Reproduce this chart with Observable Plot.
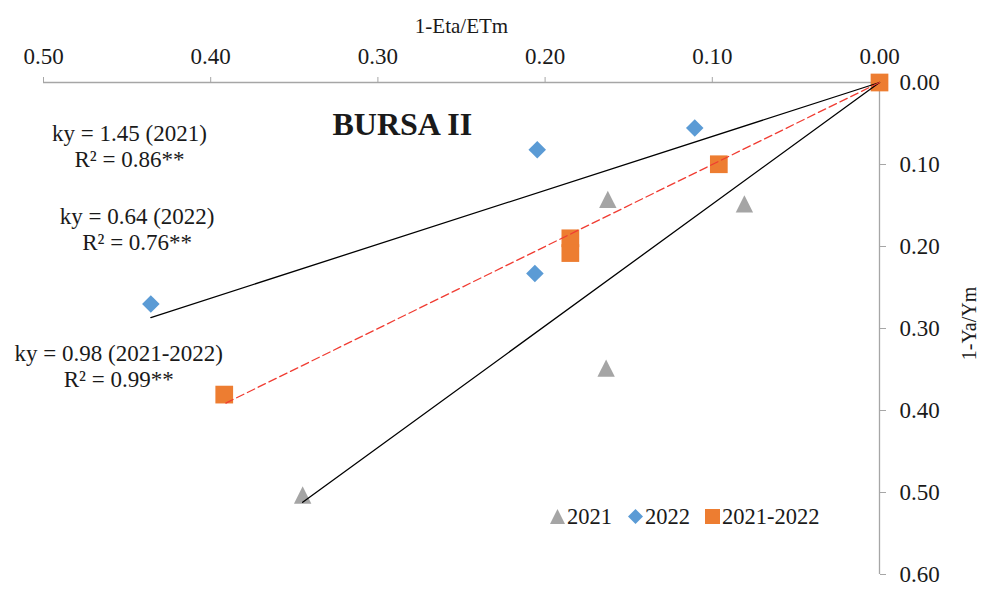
<!DOCTYPE html>
<html>
<head>
<meta charset="utf-8">
<script src="https://cdn.jsdelivr.net/npm/d3@7"></script>
<script src="https://cdn.jsdelivr.net/npm/@observablehq/plot@0.6"></script>
<style>
  html, body { margin: 0; padding: 0; background: #fff; }
  #wrap { position: relative; width: 982px; height: 594px; font-family: "Liberation Serif", "Times New Roman", serif; color: #1a1a1a; }
  #wrap svg { display: block; }
  .leg { position: absolute; display: flex; align-items: center; height: 23px; line-height: 23px; font-size: 22.5px; }
  .leg svg { margin-right: 2px; }
</style>
</head>
<body>
<div id="wrap"></div>
<script>
// ---- data ----
const series = ["2021", "2022", "2021-2022"];
const colors = ["#A5A5A5", "#5B9BD5", "#ED7D31"];

const x2021 = [0.1625, 0.0808, 0.1635, 0.345];
const y2021 = [0.1425, 0.148, 0.3484, 0.503];

const x2022 = [0.1105, 0.2047, 0.2061, 0.4358];
const y2022 = [0.0556, 0.082, 0.233, 0.270];

const xBoth = [0, 0.0961, 0.1849, 0.1849, 0.3919];
const yBoth = [0, 0.0997, 0.190, 0.208, 0.3806];

// fitted lines through the origin: far end points
const fitX = [0.345, 0.4358, 0.392];
const fitY = [0.512, 0.2866, 0.392];
const fitText = ["ky = 1.45 (2021)\nR² = 0.86**", "ky = 0.64 (2022)\nR² = 0.76**", "ky = 0.98 (2021-2022)\nR² = 0.99**"];
const fitTextX = [0.4486, 0.4440, 0.4550];
const fitTextY = [0.1035, 0.2046, 0.3715];

const title = "BURSA II";
const titleX = 0.2854, titleY = 0.0637;

const xTicks = [0.5, 0.4, 0.3, 0.2, 0.1, 0];
const yTicks = [0, 0.1, 0.2, 0.3, 0.4, 0.5, 0.6];
const xLabel = "1-Eta/ETm";
const yLabel = "1-Ya/Ym";

// ---- build tables ----
const pts = (xs, ys, s) => xs.map((x, i) => ({series: s, x, y: ys[i]}));
const p2021 = pts(x2021, y2021, series[0]);
const p2022 = pts(x2022, y2022, series[1]);
const pBoth = pts(xBoth, yBoth, series[2]);
const fitRows = series.flatMap((s, i) => [{series: s, x: 0, y: 0}, {series: s, x: fitX[i], y: fitY[i]}]);
const notes = fitText.map((t, i) => ({text: t, x: fitTextX[i], y: fitTextY[i]}));

// Excel-like marker shapes (bounding-box centred)
const tri = {draw(c, size) { const h = Math.sqrt(size) / 2; c.moveTo(0, -h); c.lineTo(h, h); c.lineTo(-h, h); c.closePath(); }};
const dia = {draw(c, size) { const h = Math.sqrt(size) / 2; c.moveTo(0, -h); c.lineTo(h, 0); c.lineTo(0, h); c.lineTo(-h, 0); c.closePath(); }};
const sq  = {draw(c, size) { const h = Math.sqrt(size) / 2; c.moveTo(-h, -h); c.lineTo(h, -h); c.lineTo(h, h); c.lineTo(-h, h); c.closePath(); }};

const axisGray = "#A6A6A6";
const fmt = d => d.toFixed(2);
const font = "Liberation Serif, Times New Roman, serif";

const chart = Plot.plot({
  width: 982,
  height: 594,
  marginTop: 82,
  marginBottom: 20,
  marginLeft: 43,
  marginRight: 103,
  style: {fontFamily: font, fontSize: "23px", color: "#1a1a1a", background: "#fff"},
  x: {domain: [0.5, 0]},
  y: {domain: [0, 0.6], reverse: true},
  marks: [
    Plot.ruleY([0], {stroke: axisGray, strokeWidth: 1.3}),
    Plot.ruleX([0], {stroke: axisGray, strokeWidth: 1.3}),
    Plot.axisX({anchor: "top", ticks: xTicks, tickFormat: fmt, tickSize: 6, tickPadding: 13, stroke: axisGray, fill: "#1a1a1a", fontSize: 23, label: null}),
    Plot.axisY({anchor: "right", ticks: yTicks, tickFormat: fmt, tickSize: 6, tickPadding: 14, stroke: axisGray, fill: "#1a1a1a", fontSize: 23, label: null}),
    Plot.text([xLabel], {frameAnchor: "top", dy: -50, lineAnchor: "bottom", fontSize: 21, fill: "#1a1a1a"}),
    Plot.text([yLabel], {frameAnchor: "right", dx: 90, dy: -5, rotate: -90, lineAnchor: "middle", textAnchor: "middle", fontSize: 20, fill: "#1a1a1a"}),
    Plot.dot(p2021, {x: "x", y: "y", symbol: tri, r: 9.8, fill: colors[0], stroke: null}),
    Plot.dot(p2022, {x: "x", y: "y", symbol: dia, r: 9.9, fill: colors[1], stroke: null}),
    Plot.dot(pBoth, {x: "x", y: "y", symbol: sq, r: 10, fill: colors[2], stroke: null}),
    Plot.line(fitRows.filter(d => d.series !== series[2]), {x: "x", y: "y", z: "series", stroke: "#000", strokeWidth: 1.3}),
    Plot.line(fitRows.filter(d => d.series === series[2]), {x: "x", y: "y", stroke: "#F03C32", strokeWidth: 1.3, strokeDasharray: "8,4"}),
    Plot.text(notes, {x: "x", y: "y", text: "text", textAnchor: "middle", lineAnchor: "bottom", lineHeight: 1.15, fontSize: 23, fill: "#1a1a1a"}),
    Plot.text([title], {x: () => titleX, y: () => titleY, textAnchor: "middle", lineAnchor: "bottom", fontSize: 32, fontWeight: "bold", fill: "#1a1a1a"})
  ]
});

const wrap = document.getElementById("wrap");
wrap.appendChild(chart);

// legend (inside the chart area, as in the reference)
const legShapes = [
  '<polygon points="7.5,0 15,15 0,15"/>',
  '<polygon points="7.5,0 15,7.5 7.5,15 0,7.5"/>',
  '<rect x="0" y="0" width="15" height="15"/>'
];
const legLeft = [550, 628, 705];
series.forEach((s, i) => {
  const el = document.createElement("div");
  el.className = "leg";
  el.style.left = legLeft[i] + "px";
  el.style.top = "505px";
  el.innerHTML = `<svg width="15" height="15" viewBox="0 0 15 15" style="fill:${colors[i]}">${legShapes[i]}</svg><span>${s}</span>`;
  wrap.appendChild(el);
});
</script>
</body>
</html>
